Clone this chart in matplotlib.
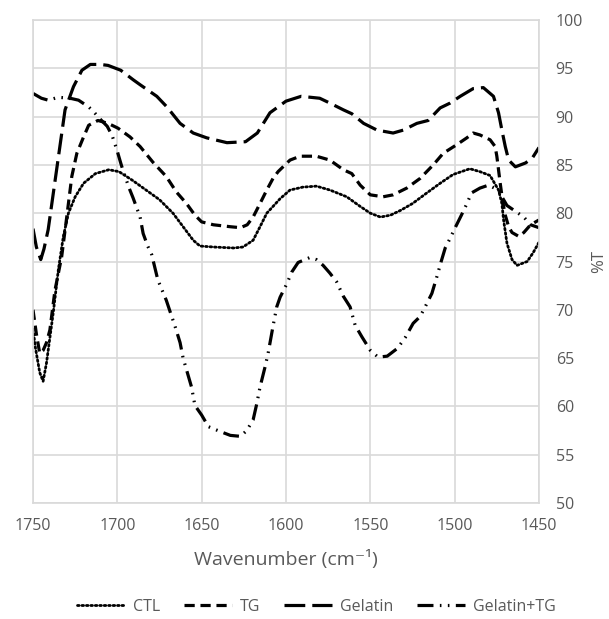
import numpy as np
import matplotlib
matplotlib.use("Agg")
import matplotlib.pyplot as plt

plt.rcParams['font.family'] = ['Open Sans', 'DejaVu Sans']

# values (wavenumber, %T)
ctl_x = [1750, 1748.5, 1746, 1744, 1742, 1741, 1738, 1735, 1732, 1729, 1725, 1720, 1713, 1705,
         1699, 1691, 1683, 1675, 1667, 1661, 1655, 1651, 1643, 1631, 1625.5, 1619.5, 1615.4,
         1611.4, 1607.7, 1603.5, 1597.6, 1590, 1582, 1574, 1564, 1556, 1550, 1544, 1538, 1532,
         1525, 1516.5, 1508.6, 1501, 1491, 1485, 1479, 1474, 1472, 1471, 1469, 1466, 1463, 1457,
         1453.5, 1450]
ctl_y = [68.0, 66.0, 63.5, 62.6, 64.5, 65.8, 69.7, 74.1, 77.6, 80.0, 81.7, 83.1, 84.1, 84.5,
         84.3, 83.4, 82.4, 81.4, 80.0, 78.6, 77.2, 76.6, 76.5, 76.4, 76.5, 77.2, 78.6,
         80.0, 80.7, 81.5, 82.4, 82.7, 82.8, 82.4, 81.7, 80.7, 80.0, 79.6, 79.8, 80.3,
         81.0, 82.1, 83.1, 84.0, 84.6, 84.3, 83.9, 82.4, 81.0, 79.3, 76.9, 75.2, 74.6, 75.0,
         75.9, 77.0]

tg_x = [1750, 1748, 1746, 1744, 1742, 1740, 1737, 1733, 1730, 1727, 1724, 1720, 1717, 1711.5,
        1705.5, 1699.6, 1692.5, 1686.5, 1679, 1671, 1665, 1659, 1654, 1650, 1643, 1633, 1627,
        1623, 1619.5, 1615.4, 1611.4, 1607.7, 1604.7, 1600, 1597.6, 1591.6, 1582, 1574, 1566,
        1561, 1556, 1550, 1542.4, 1536.5, 1528.4, 1520.5, 1512.7, 1506.8, 1498.7, 1492.8, 1489,
        1485, 1479, 1476, 1475, 1474, 1473, 1471.5, 1470, 1468, 1466, 1462, 1459, 1455, 1450]
tg_y = [70.0, 67.5, 65.5, 65.8, 66.6, 67.9, 72.0, 75.5, 79.6, 83.8, 86.2, 87.9, 89.1, 89.6,
        89.3, 88.8, 87.9, 86.9, 85.3, 83.8, 82.2, 81.0, 79.8, 79.1, 78.8, 78.6, 78.5,
        78.8, 79.6, 81.0, 82.4, 83.6, 84.3, 85.1, 85.5, 85.9, 85.9, 85.5, 84.5,
        84.1, 82.9, 81.9, 81.7, 81.9, 82.6, 83.6, 85.0, 86.2, 87.1, 87.8, 88.3,
        88.1, 87.6, 86.9, 85.9, 84.5, 83.1, 81.2, 79.8, 78.6, 78.0, 77.6, 78.0, 78.8, 79.3]

gel_x = [1750, 1748, 1745.4, 1743.5, 1741, 1736, 1731, 1726, 1721, 1716, 1710, 1705.5, 1698,
         1690.5, 1686.5, 1676.6, 1670.6, 1662.8, 1655, 1647, 1635, 1624, 1617, 1609.5, 1600,
         1591, 1580, 1574, 1566, 1561, 1554, 1546, 1536.5, 1530.5, 1522.4, 1515.7, 1508.6,
         1502.7, 1496.7, 1489, 1483, 1477, 1474, 1472, 1470, 1468, 1464, 1458, 1454, 1450]
gel_y = [78.4, 76.5, 75.2, 76.3, 78.3, 84.5, 90.7, 93.1, 94.8, 95.4, 95.4, 95.3, 94.8,
         93.8, 93.3, 92.1, 91.0, 89.3, 88.3, 87.8, 87.3, 87.4, 88.3, 90.4, 91.6,
         92.1, 91.9, 91.4, 90.7, 90.3, 89.3, 88.6, 88.3, 88.6, 89.3, 89.6, 90.9,
         91.4, 92.1, 92.9, 93.0, 92.1, 90.4, 88.6, 86.9, 85.5, 84.8, 85.2, 85.7, 86.8]

geltg_x = [1750, 1745, 1741, 1735, 1728, 1723, 1717, 1714, 1710.5, 1706, 1703, 1700, 1698,
           1696.6, 1693, 1690.7, 1686.5, 1684.7, 1682, 1679.6, 1676, 1671, 1668.7, 1665.8,
           1662.8, 1661, 1659, 1656, 1654, 1650, 1646, 1639, 1633, 1627, 1623.3, 1619.5,
           1617.3, 1615.4, 1612.4, 1610.6, 1607.7, 1605.5, 1603.5, 1599.5, 1596.6, 1592.8,
           1586, 1582, 1578, 1574, 1570, 1566, 1562, 1559, 1555, 1550, 1545.4, 1540, 1534,
           1529.4, 1524.6, 1520.5, 1517.5, 1513.5, 1510.6, 1508, 1505.6, 1502.7, 1499.7, 1496,
           1493, 1490, 1485, 1480, 1474, 1472, 1469, 1464, 1459, 1455, 1450]
geltg_y = [92.4, 91.9, 91.7, 92.0, 91.9, 91.7, 91.0, 90.5, 89.8, 89.0, 88.0, 86.4, 85.2,
           84.4, 82.6, 81.6, 79.6, 77.9, 76.6, 75.7, 73.1, 71.0, 69.8, 68.3,
           66.6, 65.0, 63.8, 62.0, 60.1, 59.1, 57.9, 57.4, 57.0, 56.9, 57.5, 58.6,
           60.3, 62.0, 64.1, 65.5, 68.3, 70.3, 71.3, 72.7, 73.9, 74.9,
           75.4, 75.2, 74.6, 73.8, 72.9, 71.4, 70.3, 68.4, 67.2, 65.8, 65.1, 65.2, 66.0,
           67.1, 68.6, 69.3, 70.3, 71.7, 73.4, 75.0, 76.4, 77.4, 78.5, 79.8,
           80.9, 82.1, 82.6, 82.9, 82.4, 81.7, 80.8, 80.2, 79.6, 78.8, 78.5]

labels = ['CTL', 'TG', 'Gelatin', 'Gelatin+TG']
xticks = [1750, 1700, 1650, 1600, 1550, 1500, 1450]
yticks = [50, 55, 60, 65, 70, 75, 80, 85, 90, 95, 100]

txt = '#595959'
grid = '#d9d9d9'

fig = plt.figure(figsize=(6.09, 6.19), dpi=100)
ax = fig.add_axes([33/609, 1-503/619, 506/609, 483/619])

lw = 2.3
ax.plot(ctl_x, ctl_y, color='black', lw=2.0, linestyle=(0, (0.6, 1.0)),
        dash_capstyle='round', label=labels[0])
ax.plot(tg_x, tg_y, color='black', lw=lw, linestyle=(0, (3.2, 1.8)), label=labels[1])
ax.plot(gel_x, gel_y, color='black', lw=lw, linestyle=(0, (6.5, 2.2)), label=labels[2])
ax.plot(geltg_x, geltg_y, color='black', lw=lw,
        linestyle=(0, (5, 2, 0.5, 2, 0.5, 2)), label=labels[3])

ax.set_xlim(1750, 1450)
ax.set_ylim(50, 100)
ax.set_xticks(xticks)
ax.set_yticks(yticks)
ax.grid(True, color=grid, lw=1.2)
ax.set_axisbelow(True)
for s in ax.spines.values():
    s.set_color(grid)
    s.set_linewidth(1.2)

ax.yaxis.tick_right()
ax.yaxis.set_label_position('right')
ax.tick_params(axis='both', length=0, labelsize=11.5, labelcolor=txt)
ax.tick_params(axis='x', pad=11)
ax.tick_params(axis='y', pad=12)
ax.set_ylabel('%T', fontsize=12, color=txt, labelpad=6)
ax.set_xlabel('Wavenumber (cm\u207b\u00b9)', fontsize=14, color=txt, labelpad=11)

fig.legend(loc='center', bbox_to_anchor=(0.5 + 12/609, 1-607/619), ncol=4, frameon=False,
           fontsize=11.5, labelcolor=txt, handlelength=3.0, handletextpad=0.5,
           columnspacing=1.5)

fig.savefig('out.png', dpi=100)
